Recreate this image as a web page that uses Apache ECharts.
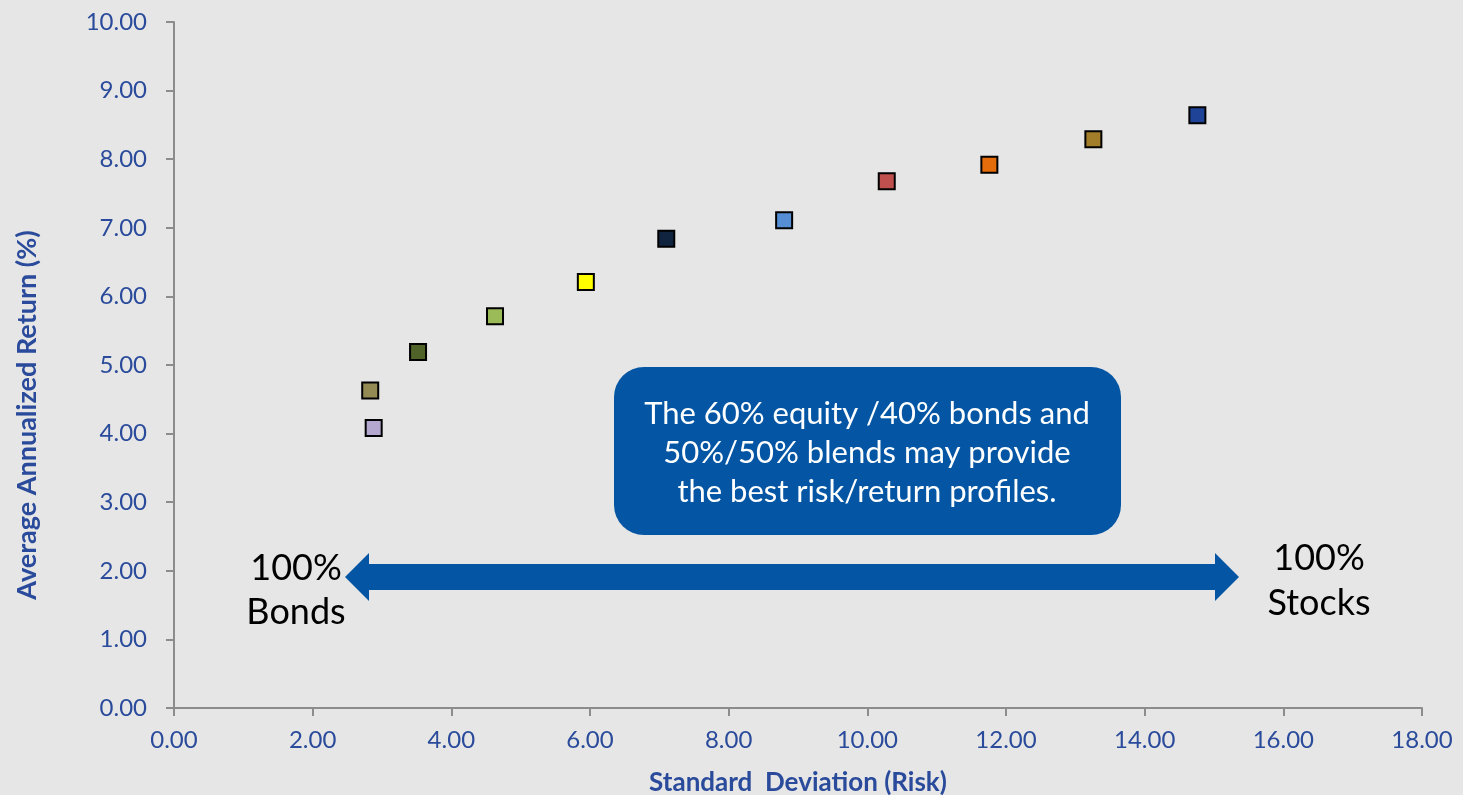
<!DOCTYPE html>
<html>
<head>
<meta charset="utf-8">
<script src="https://cdn.jsdelivr.net/npm/echarts@6/dist/echarts.min.js"></script>
<style>
html,body{margin:0;padding:0;background:#e6e6e6;}
#chart{width:1463px;height:795px;}
</style>
</head>
<body>
<div id="chart"></div>
<script>
// 各组合的风险(标准差)与收益
var riskValues = [2.88, 2.83, 3.52, 4.63, 5.94, 7.10, 8.80, 10.28, 11.76, 13.26, 14.76];
var returnValues = [4.08, 4.63, 5.19, 5.71, 6.21, 6.84, 7.11, 7.68, 7.92, 8.29, 8.64];
var pointColors = ['#b4a7d0', '#948a54', '#4f6228', '#9bbb59', '#ffff00', '#10243f',
	'#558ed5', '#c0504d', '#e46c0a', '#a27e2a', '#1f4497'];
var xTicks = {min: 0, max: 18, interval: 2};
var yTicks = {min: 0, max: 10, interval: 1};

var blue = '#0456a4';
var labelColor = '#2a4b9b';

var chart = echarts.init(document.getElementById('chart'));

var points = riskValues.map(function (r, i) {
	return {value: [r, returnValues[i]], itemStyle: {color: pointColors[i]}};
});

var lineStyle = {color: '#8c8c8c', width: 2};
var fmt = function (v) { return v.toFixed(2); };

chart.setOption({
	backgroundColor: '#e6e6e6',
	animation: false,
	grid: {left: 174, right: 41, top: 22, bottom: 87, outerBoundsMode: 'none', containLabel: false},
	xAxis: {
		type: 'value', min: xTicks.min, max: xTicks.max, interval: xTicks.interval,
		name: 'Standard  Deviation (Risk)', nameLocation: 'middle', nameGap: 62,
		nameTextStyle: {color: labelColor, fontFamily: 'Lato', fontWeight: 'bold', fontSize: 26},
		axisLine: {lineStyle: lineStyle},
		axisTick: {show: true, length: 8, lineStyle: lineStyle},
		splitLine: {show: false},
		axisLabel: {color: labelColor, fontFamily: 'Lato', fontSize: 24, margin: 20, formatter: fmt}
	},
	yAxis: {
		type: 'value', min: yTicks.min, max: yTicks.max, interval: yTicks.interval,
		axisLine: {lineStyle: lineStyle},
		axisTick: {show: true, length: 8, lineStyle: lineStyle},
		splitLine: {show: false},
		axisLabel: {color: labelColor, fontFamily: 'Lato', fontSize: 24, margin: 27, formatter: fmt}
	},
	graphic: [
		{
			type: 'text', x: 27, y: 415, rotation: Math.PI / 2,
			style: {
				text: 'Average Annualized Return (%)', fill: labelColor,
				font: 'bold 27px Lato', align: 'center', verticalAlign: 'middle'
			}
		},
		{
			// 双向箭头
			type: 'polygon',
			shape: {points: [[345, 577], [369, 553], [369, 564], [1215, 564], [1215, 553],
				[1239, 577], [1215, 601], [1215, 590], [369, 590], [369, 601]]},
			style: {fill: blue}
		},
		{
			type: 'rect', shape: {x: 614, y: 367, width: 507, height: 168, r: 30},
			style: {fill: blue}
		},
		{
			type: 'text', x: 867, y: 453,
			style: {
				text: 'The 60% equity /40% bonds and\n50%/50% blends may provide\nthe best risk/return profiles.',
				fill: '#ffffff', font: '31px Lato', lineHeight: 39, align: 'center', verticalAlign: 'middle'
			}
		},
		{
			type: 'text', x: 296, y: 590,
			style: {
				text: '100%\nBonds', fill: '#000000', font: '36px Lato', lineHeight: 44,
				align: 'center', verticalAlign: 'middle'
			}
		},
		{
			type: 'text', x: 1319, y: 581,
			style: {
				text: '100%\nStocks', fill: '#000000', font: '36px Lato', lineHeight: 45,
				align: 'center', verticalAlign: 'middle'
			}
		}
	],
	series: [{
		type: 'scatter',
		symbol: 'rect',
		symbolSize: 16,
		itemStyle: {borderColor: '#000000', borderWidth: 2, opacity: 1},
		data: points
	}]
});
</script>
</body>
</html>
